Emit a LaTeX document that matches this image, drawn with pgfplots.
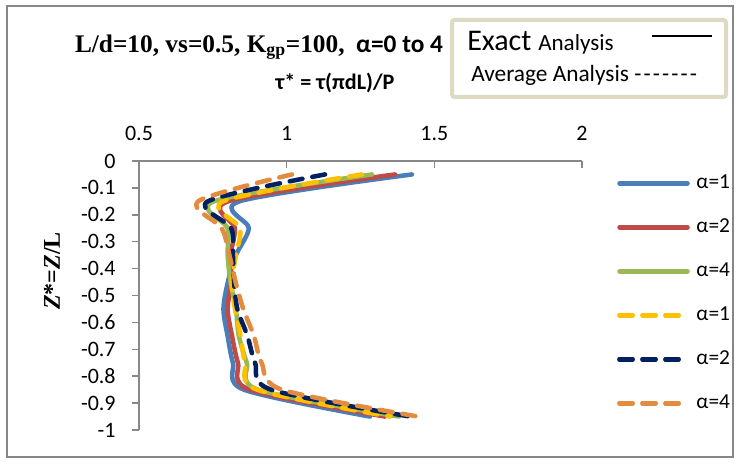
\documentclass[border=0pt]{standalone}
\usepackage{pgfplots}
\usepackage{pgfplotstable}
\pgfplotsset{compat=1.18}
\usepackage{fontspec}
\setmainfont{Carlito}
\newfontfamily\timesfont{Liberation Serif}

\definecolor{cBlue}{HTML}{4A7EBB}
\definecolor{cRed}{HTML}{BE4B48}
\definecolor{cGreen}{HTML}{98B954}
\definecolor{cYellow}{HTML}{FFC000}
\definecolor{cNavy}{HTML}{002060}
\definecolor{cOrange}{HTML}{E38B3E}
\definecolor{frameGray}{HTML}{878787}
\definecolor{axisGray}{HTML}{888888}
\definecolor{boxTan}{HTML}{DDD9C3}

% shear stress tau* along the pile depth Z* = Z/L
% e = exact analysis, a = average analysis, number = alpha
\pgfplotstableread{
z     e1    e2    e4    a1    a2    a4
-0.05 1.424 1.367 1.289 1.255 1.130 1.018
-0.15 0.840 0.802 0.754 0.785 0.733 0.700
-0.25 0.872 0.825 0.800 0.842 0.812 0.780
-0.35 0.828 0.810 0.800 0.828 0.818 0.806
-0.45 0.801 0.812 0.810 0.814 0.822 0.827
-0.55 0.786 0.800 0.828 0.825 0.833 0.853
-0.65 0.800 0.815 0.838 0.844 0.867 0.889
-0.75 0.818 0.835 0.865 0.859 0.893 0.915
-0.85 0.855 0.875 0.903 0.900 0.947 0.984
-0.95 1.282 1.333 1.380 1.350 1.418 1.445
}\datatable

\newcommand\hy{-\hspace{1.6pt}}

\begin{document}
\begin{tikzpicture}[x=0.75pt,y=0.75pt]
\useasboundingbox (0,0) rectangle (739,463);
\fill[white] (0,0) rectangle (739,463);
\draw[frameGray, line width=1.5pt] (7,6) rectangle (733,457);

% titles
\node[font=\fontsize{19}{22}\selectfont\bfseries] at (259,416)
  {{\timesfont L/d=10, vs=0.5, K\textsubscript{gp}=100,}\ \ α=0 to 4};
\node[font=\fontsize{16.6}{19}\selectfont\bfseries] at (335,380) {τ* = τ(πdL)/P};

% y label
\node[rotate=90, font=\timesfont\bfseries\fontsize{18}{20}\selectfont] at (52,192)
  {\textit{Z}*=\textit{Z}/L};

% key for line styles
\draw[boxTan, line width=3pt, fill=white, rounded corners=2pt] (452,366) rectangle (726,443);
\node[anchor=base west, inner sep=0pt] at (467,412)
  {\fontsize{22.5}{24}\selectfont Exact \fontsize{17.3}{19}\selectfont Analysis};
\draw[black, line width=1.1pt] (652,427) -- (712,427);
\node[anchor=base west, inner sep=0pt, font=\fontsize{17.5}{19}\selectfont] at (471,381)
  {Average Analysis \hy\hy\hy\hy\hy\hy-};

\begin{axis}[
  at={(104.25pt,24.75pt)}, anchor=south west,
  scale only axis, width=332.25pt, height=201.75pt,
  xmin=0.5, xmax=2, ymin=-1, ymax=0,
  axis x line=top, axis y line=left,
  axis line style={-, draw=axisGray, line width=1.1pt},
  tick style={draw=axisGray, line width=1.1pt},
  major tick length=5pt,
  xtick align=inside, ytick align=outside,
  xtick={0.5,1,1.5,2}, xticklabels={0.5,1,1.5,2},
  ytick={0,-0.1,-0.2,-0.3,-0.4,-0.5,-0.6,-0.7,-0.8,-0.9,-1},
  yticklabels={0,-0.1,-0.2,-0.3,-0.4,-0.5,-0.6,-0.7,-0.8,-0.9,-1},
  ticklabel style={font=\fontsize{16.5}{19}\selectfont},
  xticklabel style={yshift=11.5pt},
  yticklabel style={xshift=-9pt},
  legend cell align=left,
  legend style={at={(axis description cs:1.079,0.953)}, anchor=north west,
    draw=none, fill=none, inner sep=0pt, column sep=5pt, row sep=19pt,
    font=\fontsize{16}{18}\selectfont,
    nodes={inner sep=0pt, text height=11pt, text depth=3pt}},
  legend image code/.code={\draw[#1] (0pt,0pt) -- (51pt,0pt);},
  every axis plot/.append style={line width=3.4pt, line cap=round, line join=round,
    smooth, tension=0.5},
]
\addplot[cBlue] table[x=e1, y=z] \datatable;
\addlegendentry{α=1}
\addplot[cRed] table[x=e2, y=z] \datatable;
\addlegendentry{α=2}
\addplot[cGreen] table[x=e4, y=z] \datatable;
\addlegendentry{α=4}
\pgfplotsset{dashed key/.style={legend image code/.code={\path (0pt,0pt) -- (51pt,0pt);\draw[##1] (0pt,0pt) -- (44.25pt,0pt);}}}
\addplot[cYellow, dash pattern=on 9.75pt off 7.5pt, dashed key] table[x=a1, y=z] \datatable;
\addlegendentry{α=1}
\addplot[cNavy, dash pattern=on 9.75pt off 7.5pt, dashed key] table[x=a2, y=z] \datatable;
\addlegendentry{α=2}
\addplot[cOrange, dash pattern=on 9.75pt off 7.5pt, dashed key] table[x=a4, y=z] \datatable;
\addlegendentry{α=4}
\end{axis}
\end{tikzpicture}
\end{document}
